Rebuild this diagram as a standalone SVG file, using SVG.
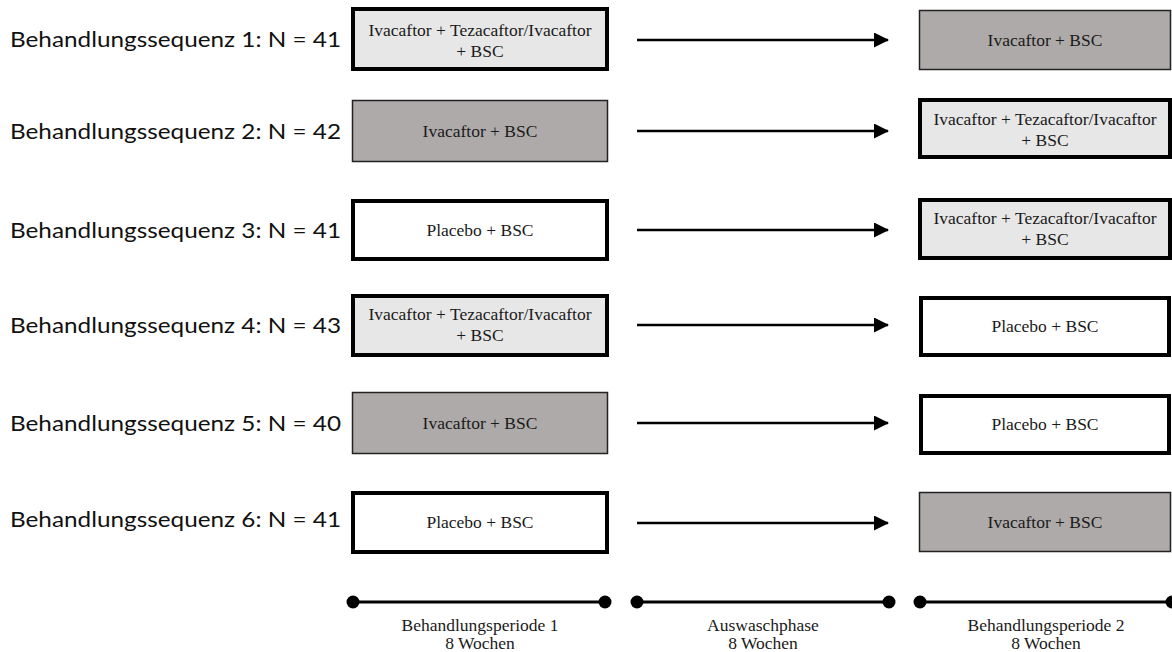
<svg xmlns="http://www.w3.org/2000/svg" width="1172" height="652" viewBox="0 0 1172 652">
<defs>
<style>
.lab{font-family:Lato,"Liberation Sans",Arial,sans-serif;font-size:22px;fill:#111}
.bt{font-family:"Liberation Serif","Times New Roman",serif;font-size:17.5px;fill:#1a1a1a;text-anchor:middle}
.ft{font-family:"Liberation Serif","Times New Roman",serif;font-size:17.5px;fill:#1a1a1a;text-anchor:middle}
.lg{fill:#E8E7E7;stroke:#000;stroke-width:4}
.dg{fill:#AEAAA9;stroke:#222;stroke-width:1.5}
.wh{fill:#fff;stroke:#000;stroke-width:4}
.arr{stroke:#000;stroke-width:2.5;fill:none}
.tl{stroke:#000;stroke-width:3;fill:none}
</style>
<marker id="ah" markerWidth="6" markerHeight="6" refX="5.6" refY="3" orient="auto" markerUnits="strokeWidth">
<path d="M0,0 L6,3 L0,6 z" fill="#000"/>
</marker>
</defs>
<rect width="1172" height="652" fill="#fff"/>

<g id="labels">
<text class="lab" x="10" y="47" textLength="331" lengthAdjust="spacingAndGlyphs">Behandlungssequenz 1: N = 41</text>
<text class="lab" x="10" y="139" textLength="331" lengthAdjust="spacingAndGlyphs">Behandlungssequenz 2: N = 42</text>
<text class="lab" x="10" y="238" textLength="331" lengthAdjust="spacingAndGlyphs">Behandlungssequenz 3: N = 41</text>
<text class="lab" x="10" y="333" textLength="331" lengthAdjust="spacingAndGlyphs">Behandlungssequenz 4: N = 43</text>
<text class="lab" x="10" y="431" textLength="331" lengthAdjust="spacingAndGlyphs">Behandlungssequenz 5: N = 40</text>
<text class="lab" x="10" y="527" textLength="331" lengthAdjust="spacingAndGlyphs">Behandlungssequenz 6: N = 41</text>
</g>

<g id="s1-p1"><rect class="lg" x="353" y="9" width="254" height="60"/><text class="bt" x="480" y="36">Ivacaftor + Tezacaftor/Ivacaftor</text><text class="bt" x="480" y="57">+ BSC</text></g>
<g id="s1-p2"><rect class="dg" x="919.5" y="10.5" width="251" height="59"/><text class="bt" x="1045" y="46">Ivacaftor + BSC</text></g>

<g id="s2-p1"><rect class="dg" x="352.5" y="100.5" width="255" height="61"/><text class="bt" x="480" y="137">Ivacaftor + BSC</text></g>
<g id="s2-p2"><rect class="lg" x="920" y="100" width="250" height="57"/><text class="bt" x="1045" y="125">Ivacaftor + Tezacaftor/Ivacaftor</text><text class="bt" x="1045" y="146">+ BSC</text></g>

<g id="s3-p1"><rect class="wh" x="353" y="201" width="254" height="58"/><text class="bt" x="480" y="236">Placebo + BSC</text></g>
<g id="s3-p2"><rect class="lg" x="920" y="200" width="250" height="58"/><text class="bt" x="1045" y="224">Ivacaftor + Tezacaftor/Ivacaftor</text><text class="bt" x="1045" y="245">+ BSC</text></g>

<g id="s4-p1"><rect class="lg" x="353" y="296" width="254" height="59"/><text class="bt" x="480" y="320">Ivacaftor + Tezacaftor/Ivacaftor</text><text class="bt" x="480" y="341">+ BSC</text></g>
<g id="s4-p2"><rect class="wh" x="921" y="298" width="248" height="57"/><text class="bt" x="1045" y="332">Placebo + BSC</text></g>

<g id="s5-p1"><rect class="dg" x="352.5" y="392.5" width="255" height="61"/><text class="bt" x="480" y="429">Ivacaftor + BSC</text></g>
<g id="s5-p2"><rect class="wh" x="921" y="396" width="248" height="57"/><text class="bt" x="1045" y="430">Placebo + BSC</text></g>

<g id="s6-p1"><rect class="wh" x="353" y="493" width="254" height="59"/><text class="bt" x="480" y="528">Placebo + BSC</text></g>
<g id="s6-p2"><rect class="dg" x="919.5" y="492.5" width="251" height="59"/><text class="bt" x="1045" y="528">Ivacaftor + BSC</text></g>

<g id="connectors">
<line class="arr" x1="637" y1="40" x2="888" y2="40" marker-end="url(#ah)"/>
<line class="arr" x1="637" y1="131" x2="888" y2="131" marker-end="url(#ah)"/>
<line class="arr" x1="637" y1="230" x2="888" y2="230" marker-end="url(#ah)"/>
<line class="arr" x1="637" y1="325" x2="888" y2="325" marker-end="url(#ah)"/>
<line class="arr" x1="637" y1="423" x2="888" y2="423" marker-end="url(#ah)"/>
<line class="arr" x1="637" y1="523" x2="888" y2="523" marker-end="url(#ah)"/>
</g>

<g id="timeline">
<line class="tl" x1="353" y1="602" x2="605" y2="602"/>
<circle cx="353" cy="602" r="6.5"/><circle cx="605" cy="602" r="6.5"/>
<line class="tl" x1="637" y1="602" x2="889" y2="602"/>
<circle cx="637" cy="602" r="6.5"/><circle cx="889" cy="602" r="6.5"/>
<line class="tl" x1="920" y1="602" x2="1172" y2="602"/>
<circle cx="920" cy="602" r="6.5"/><circle cx="1172" cy="602" r="6.5"/>
<text class="ft" x="480" y="631">Behandlungsperiode 1</text>
<text class="ft" x="480" y="649">8 Wochen</text>
<text class="ft" x="763" y="631">Auswaschphase</text>
<text class="ft" x="763" y="649">8 Wochen</text>
<text class="ft" x="1046" y="631">Behandlungsperiode 2</text>
<text class="ft" x="1046" y="649">8 Wochen</text>
</g>
</svg>
